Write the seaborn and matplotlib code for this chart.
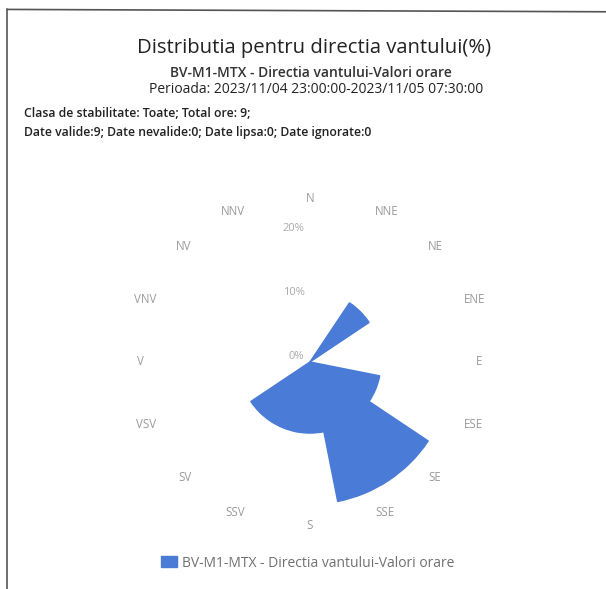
import numpy as np
import seaborn as sns
import matplotlib.pyplot as plt
from matplotlib.lines import Line2D
from matplotlib.patches import Patch
from matplotlib.transforms import offset_copy

sns.set_style("white")
plt.rcParams['font.family'] = ['Open Sans', 'DejaVu Sans']

# wind directions (Romanian labels) and share of hours in each (%)
directions = ['N', 'NNE', 'NE', 'ENE', 'E', 'ESE', 'SE', 'SSE',
              'S', 'SSV', 'SV', 'VSV', 'V', 'VNV', 'NV', 'NNV']
percent = [0, 0, 11.11, 0, 0, 11.11, 22.22, 22.22,
           11.11, 11.11, 11.11, 0, 0, 0, 0, 0]
r_ticks = [0, 10, 20]
r_tick_labels = ['0%', '10%', '20%']
series_name = 'BV-M1-MTX - Directia vantului-Valori orare'

bar_color = '#4a7bd6'

fig = plt.figure(figsize=(6.06, 5.89), dpi=100)
ax = fig.add_axes([0.2475, 0.1138, 0.528, 0.5433], projection='polar')
ax.set_theta_zero_location('N')
ax.set_theta_direction(-1)

theta = np.deg2rad(np.arange(len(directions)) * 22.5)
ax.bar(theta, percent, width=2 * np.pi / len(directions), color=bar_color,
       edgecolor=bar_color, linewidth=1.0, align='center')

ax.set_ylim(0, 25)
ax.set_xticks([])
ax.set_yticks([])
ax.grid(False)
ax.spines['polar'].set_visible(False)

# direction labels around the rose, aligned outward like the original
for t, d in zip(theta, directions):
    s = np.sin(t)
    if abs(s) < 0.01:
        ha, dx = 'center', 0
    elif s > 0:
        ha, dx = 'left', 2
    else:
        ha, dx = 'right', -2
    tr = offset_copy(ax.transData, fig=fig, x=dx, y=0, units='points')
    ax.text(t, 25.5, d, ha=ha, va='center', fontsize=8.3, color='#9a9a9a',
            transform=tr)

# radial labels along the north axis
trans = offset_copy(ax.transData, fig=fig, x=-4, y=4, units='points')
for v, lbl in zip(r_ticks, r_tick_labels):
    ax.text(0, v, lbl, ha='right', va='center', fontsize=8, color='#aaaaaa',
            transform=trans)

# titles and info lines
fig.text(0.519, 0.919, 'Distributia pentru directia vantului(%)', ha='center',
         va='center', fontsize=14.6, color='#222222')
fig.text(0.513, 0.876, series_name, ha='center', va='center', fontsize=10,
         color='#333333', fontweight='semibold')
fig.text(0.522, 0.848, 'Perioada: 2023/11/04 23:00:00-2023/11/05 07:30:00',
         ha='center', va='center', fontsize=10, color='#222222')
fig.text(0.040, 0.807, 'Clasa de stabilitate: Toate; Total ore: 9;',
         ha='left', va='center', fontsize=8.8, color='#222222', fontweight='semibold')
fig.text(0.040, 0.775, 'Date valide:9; Date nevalide:0; Date lipsa:0; Date ignorate:0',
         ha='left', va='center', fontsize=8.8, color='#222222', fontweight='semibold')

# legend at the bottom
handle = Patch(facecolor=bar_color, edgecolor=bar_color)
leg = fig.legend([handle], [series_name], loc='center', bbox_to_anchor=(0.508, 0.044),
                 frameon=False, fontsize=10, handlelength=1.1, handleheight=0.8,
                 handletextpad=0.4)
for txt in leg.get_texts():
    txt.set_color('#707070')

# scanned frame (left and top edges)
fig.add_artist(Line2D([0.012, 0.012], [0.0, 0.984], color='#555555', lw=1.2,
                      transform=fig.transFigure))
fig.add_artist(Line2D([0.012, 1.0], [0.984, 0.980], color='#555555', lw=1.2,
                      transform=fig.transFigure))

fig.savefig('out.png', dpi=100)
